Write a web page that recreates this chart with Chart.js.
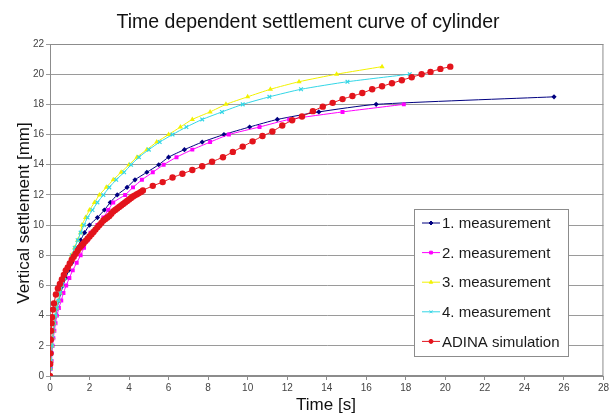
<!DOCTYPE html>
<html>
<head>
<meta charset="utf-8">
<script src="https://cdn.jsdelivr.net/npm/chart.js@4"></script>
<style>
  html, body { margin: 0; padding: 0; background: #fff; }
  #wrap { width: 611px; height: 417px; position: relative; }
</style>
</head>
<body>
<div id="wrap"><canvas id="settlementChart" width="611" height="417"></canvas></div>
<script>
// Time [s] and settlement [mm]
const m1Time = [0, 0.02, 0.04, 0.07, 0.1, 0.14, 0.18, 0.23, 0.29, 0.36, 0.45, 0.55, 0.66, 0.8, 0.95, 1.1, 1.25, 1.4, 1.55, 1.75, 2.0, 2.4, 2.75, 3.05, 3.4, 3.9, 4.3, 4.9, 5.5, 6.0, 6.8, 7.7, 8.8, 10.1, 11.5, 13.6, 16.5, 25.5];
const m1Settle = [0, 0.5, 1, 1.5, 2, 2.5, 3, 3.5, 4, 4.5, 5, 5.5, 6, 6.5, 7, 7.5, 8, 8.5, 9, 9.5, 10, 10.5, 11, 11.5, 12, 12.5, 13, 13.5, 14, 14.5, 15, 15.5, 16, 16.5, 17, 17.5, 18, 18.5];

const m2Time = [0, 0.05, 0.08, 0.1, 0.13, 0.17, 0.22, 0.28, 0.35, 0.45, 0.57, 0.68, 0.82, 0.98, 1.15, 1.35, 1.55, 1.72, 1.9, 2.05, 2.4, 2.7, 2.95, 3.2, 3.8, 4.2, 4.65, 5.2, 5.75, 6.4, 7.2, 8.1, 9.05, 10.6, 12.1, 14.8, 17.9];
const m2Settle = [0, 0.5, 1, 1.5, 2, 2.5, 3, 3.5, 4, 4.5, 5, 5.5, 6, 6.5, 7, 7.5, 8, 8.5, 9, 9.5, 10, 10.5, 11, 11.5, 12, 12.5, 13, 13.5, 14, 14.5, 15, 15.5, 16, 16.5, 17, 17.5, 18];

const m3Time = [0, 0.03, 0.05, 0.07, 0.1, 0.13, 0.17, 0.22, 0.28, 0.35, 0.43, 0.52, 0.62, 0.73, 0.85, 0.98, 1.1, 1.25, 1.4, 1.55, 1.62, 1.8, 2.0, 2.25, 2.5, 2.85, 3.2, 3.6, 4.0, 4.4, 4.9, 5.4, 6.0, 6.6, 7.2, 8.1, 8.9, 10.0, 11.15, 12.6, 14.5, 16.8];
const m3Settle = [0, 0.5, 1, 1.5, 2, 2.5, 3, 3.5, 4, 4.5, 5, 5.5, 6, 6.5, 7, 7.5, 8, 8.5, 9, 9.5, 10, 10.5, 11, 11.5, 12, 12.5, 13, 13.5, 14, 14.5, 15, 15.5, 16, 16.5, 17, 17.5, 18, 18.5, 19, 19.5, 20, 20.5];

const m4Time = [0, 0.03, 0.05, 0.07, 0.1, 0.13, 0.17, 0.22, 0.28, 0.35, 0.43, 0.52, 0.62, 0.73, 0.85, 0.98, 1.1, 1.25, 1.4, 1.55, 1.72, 1.9, 2.15, 2.4, 2.7, 3.0, 3.35, 3.75, 4.1, 4.5, 5.0, 5.55, 6.2, 6.9, 7.7, 8.7, 9.75, 11.1, 12.7, 15.05, 18.2];
const m4Settle = [0, 0.5, 1, 1.5, 2, 2.5, 3, 3.5, 4, 4.5, 5, 5.5, 6, 6.5, 7, 7.5, 8, 8.5, 9, 9.5, 10, 10.5, 11, 11.5, 12, 12.5, 13, 13.5, 14, 14.5, 15, 15.5, 16, 16.5, 17, 17.5, 18, 18.5, 19, 19.5, 20];

const simTime = [0, 0.01, 0.02, 0.04, 0.06, 0.08, 0.1, 0.15, 0.2, 0.3, 0.4, 0.5, 0.6, 0.7, 0.8, 0.9, 1.0, 1.1, 1.2, 1.3, 1.4, 1.5, 1.6, 1.7, 1.8, 1.9, 2.0, 2.1, 2.2, 2.3, 2.4, 2.5, 2.6, 2.7, 2.8, 2.9, 3.0, 3.1, 3.2, 3.3, 3.4, 3.5, 3.6, 3.7, 3.8, 3.9, 4.0, 4.1, 4.2, 4.3, 4.4, 4.5, 4.6, 4.7, 5.2, 5.7, 6.2, 6.7, 7.2, 7.7, 8.2, 8.75, 9.25, 9.75, 10.25, 10.75, 11.25, 11.75, 12.25, 12.75, 13.3, 13.8, 14.3, 14.8, 15.3, 15.8, 16.3, 16.8, 17.3, 17.8, 18.3, 18.8, 19.25, 19.75, 20.25];
const simSettle = [0, 0.8, 1.5, 2.4, 3.0, 3.5, 3.9, 4.4, 4.8, 5.4, 5.8, 6.1, 6.4, 6.7, 7.0, 7.2, 7.45, 7.7, 7.9, 8.1, 8.3, 8.5, 8.65, 8.8, 8.95, 9.1, 9.25, 9.4, 9.55, 9.7, 9.85, 10.0, 10.15, 10.3, 10.4, 10.5, 10.6, 10.75, 10.9, 11.0, 11.1, 11.2, 11.3, 11.4, 11.5, 11.6, 11.7, 11.8, 11.9, 11.97, 12.05, 12.12, 12.2, 12.3, 12.6, 12.85, 13.15, 13.4, 13.65, 13.9, 14.2, 14.5, 14.85, 15.2, 15.55, 15.9, 16.2, 16.6, 16.95, 17.2, 17.55, 17.85, 18.1, 18.35, 18.55, 18.75, 19.0, 19.2, 19.4, 19.6, 19.8, 20.0, 20.15, 20.35, 20.5];

const seriesNames = ["1. measurement", "2. measurement", "3. measurement", "4. measurement", "ADINA simulation"];
const xTicks = [0, 2, 4, 6, 8, 10, 12, 14, 16, 18, 20, 22, 24, 26, 28];
const yTicks = [0, 2, 4, 6, 8, 10, 12, 14, 16, 18, 20, 22];
const chartTitle = "Time dependent settlement curve of cylinder";
const xTitle = "Time [s]";
const yTitle = "Vertical settlement [mm]";

const FONT = "'Liberation Sans', Arial, sans-serif";

const toPoints = (xs, ys) => xs.map((x, i) => ({ x: x, y: ys[i] }));

const makeSeries = (label, xs, ys, color, style, radius, order) => ({
  label: label,
  data: toPoints(xs, ys),
  borderColor: color,
  backgroundColor: color,
  borderWidth: 1,
  pointStyle: style,
  pointRadius: radius,
  pointBorderWidth: style === "crossRot" ? 1.2 : 0,
  pointHoverRadius: radius,
  tension: 0.2,
  order: order,
});

const datasets = [
  makeSeries(seriesNames[0], m1Time, m1Settle, "#000080", "rectRot", 2.6, 5),
  makeSeries(seriesNames[1], m2Time, m2Settle, "#ff00ff", "rect", 2.8, 4),
  makeSeries(seriesNames[2], m3Time, m3Settle, "#f2f200", "triangle", 3, 3),
  makeSeries(seriesNames[3], m4Time, m4Settle, "#33d6e6", "crossRot", 2.6, 2),
  makeSeries(seriesNames[4], simTime, simSettle, "#e3141c", "circle", 3.2, 1),
];

// frame round the plot area, titles, and the legend box inside the plot
const framePlugin = {
  id: "frame",
  beforeDatasetsDraw(chart) {
    const { ctx, chartArea } = chart;
    ctx.save();
    ctx.strokeStyle = "#8c8c8c";
    ctx.lineWidth = 1;
    ctx.strokeRect(chartArea.left + 0.5, chartArea.top + 0.5, chartArea.width - 1, chartArea.height - 1);
    ctx.restore();
  },
  afterDraw(chart) {
    const { ctx } = chart;
    ctx.save();
    ctx.fillStyle = "#111";
    ctx.textAlign = "center";
    ctx.textBaseline = "alphabetic";
    ctx.font = "19.5px " + FONT;
    ctx.fillText(chartTitle, 308, 28);
    ctx.textBaseline = "middle";
    ctx.font = "17px " + FONT;
    ctx.fillText(xTitle, 326, 405);
    ctx.save();
    ctx.translate(24, 213);
    ctx.rotate(-Math.PI / 2);
    ctx.fillText(yTitle, 0, 0);
    ctx.restore();

    const box = { x: 414, y: 209, w: 154, h: 147 };
    ctx.fillStyle = "#fff";
    ctx.fillRect(box.x, box.y, box.w, box.h);
    ctx.strokeStyle = "#8c8c8c";
    ctx.lineWidth = 1;
    ctx.strokeRect(box.x + 0.5, box.y + 0.5, box.w, box.h);
    ctx.textAlign = "left";
    chart.data.datasets.forEach((ds, i) => {
      const cy = 223 + i * 29.6;
      ctx.strokeStyle = ds.borderColor;
      ctx.lineWidth = 1;
      ctx.beginPath();
      ctx.moveTo(422, cy);
      ctx.lineTo(440, cy);
      ctx.stroke();
      ctx.fillStyle = ds.backgroundColor;
      Chart.helpers.drawPoint(ctx, { pointStyle: ds.pointStyle, radius: 2, rotation: 0, borderWidth: 1 }, 431, cy);
      ctx.fillStyle = "#1a1a1a";
      ctx.font = "15px " + FONT;
      ctx.fillText(ds.label, 442, cy + 1);
    });
    ctx.restore();
  },
};

const ctx = document.getElementById("settlementChart").getContext("2d");
new Chart(ctx, {
  type: "line",
  data: { datasets: datasets },
  options: {
    responsive: false,
    animation: false,
    layout: { padding: { left: 0, right: 7, top: 44, bottom: 0 } },
    plugins: {
      legend: { display: false },
      tooltip: { enabled: false },
      title: { display: false },
    },
    scales: {
      x: {
        type: "linear",
        min: 0,
        max: 28,
        afterFit: (scale) => { scale.height = 41; },
        afterBuildTicks: (scale) => { scale.ticks = xTicks.map((v) => ({ value: v })); },
        grid: { drawOnChartArea: false, drawTicks: true, tickLength: 4, color: "#8c8c8c" },
        border: { color: "#8c8c8c" },
        ticks: { color: "#444", padding: 2, font: { family: FONT, size: 10 } },
      },
      y: {
        min: 0,
        max: 22,
        afterFit: (scale) => { scale.width = 50; },
        afterBuildTicks: (scale) => { scale.ticks = yTicks.map((v) => ({ value: v })); },
        grid: { color: "#9a9a9a", tickLength: 4 },
        border: { color: "#8c8c8c" },
        ticks: { color: "#444", padding: 2, font: { family: FONT, size: 10 } },
      },
    },
  },
  plugins: [framePlugin],
});
</script>
</body>
</html>
